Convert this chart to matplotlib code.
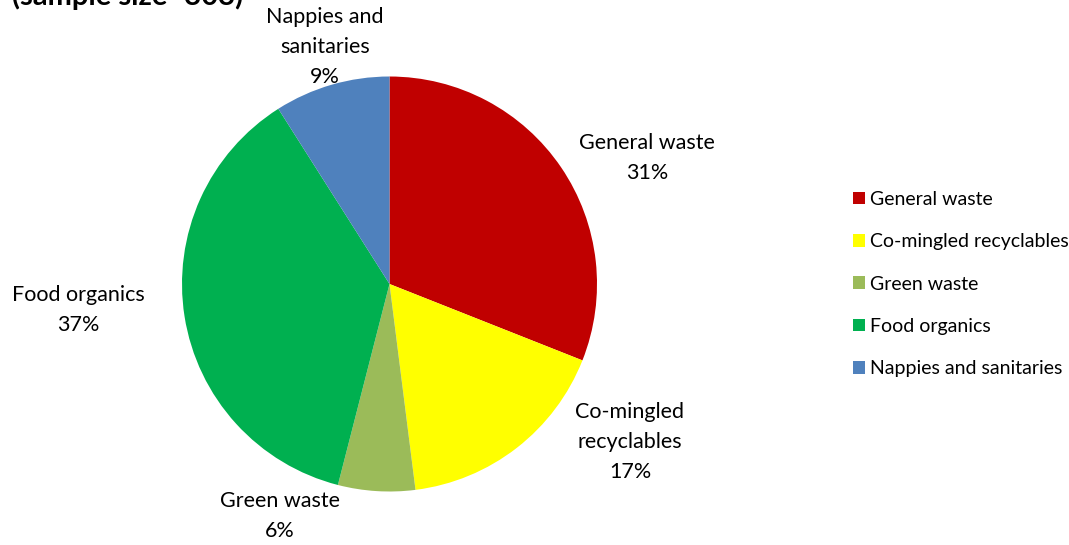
import matplotlib.pyplot as plt
from matplotlib.patches import Patch

# --- DATA ---
categories = ["General waste", "Co-mingled recyclables", "Green waste",
              "Food organics", "Nappies and sanitaries"]
shares = [31, 17, 6, 37, 9]
slice_labels = ["General waste\n31%", "Co-mingled\nrecyclables\n17%", "Green waste\n6%",
                "Food organics\n37%", "Nappies and\nsanitaries\n9%"]
colors = ["#C00000", "#FFFF00", "#9BBB59", "#00B050", "#4F81BD"]

plt.rcParams['font.family'] = ['Lato', 'DejaVu Sans']

W, H = 1069, 545
fig = plt.figure(figsize=(W / 100, H / 100), dpi=100)

# pie centre (389.5, 284) px, radius 207.5 px
cx, cy, r = 389.5, 284, 207.5
ax = fig.add_axes([(cx - r) / W, (H - cy - r) / H, 2 * r / W, 2 * r / H])
ax.pie(shares, colors=colors, startangle=90, counterclock=False, radius=1,
       wedgeprops=dict(edgecolor="none", linewidth=0))
ax.set_xlim(-1, 1)
ax.set_ylim(-1, 1)
ax.set_aspect("equal")
ax.axis("off")

# label positions in pie units
label_pos = [(1.241, 0.607), (1.159, -0.761), (-0.53, -1.118),
             (-1.501, -0.125), (-0.31, 1.142)]
for (x, y), txt in zip(label_pos, slice_labels):
    ax.text(x, y, txt, ha="center", va="center", fontsize=15.5,
            linespacing=1.6, clip_on=False)

# title partly cut off at the top
fig.text(12 / W, 1 - 10 / H, "(sample size=303)", fontsize=21, fontweight="bold",
         ha="left", va="bottom")

handles = [Patch(facecolor=c, edgecolor="none") for c in colors]
fig.legend(handles, categories, loc="center left",
           bbox_to_anchor=(835 / W, (H - 284) / H), frameon=False,
           fontsize=14, handlelength=0.62, handleheight=0.62,
           handletextpad=0.3, labelspacing=1.3)

fig.savefig("out.png", dpi=100)
